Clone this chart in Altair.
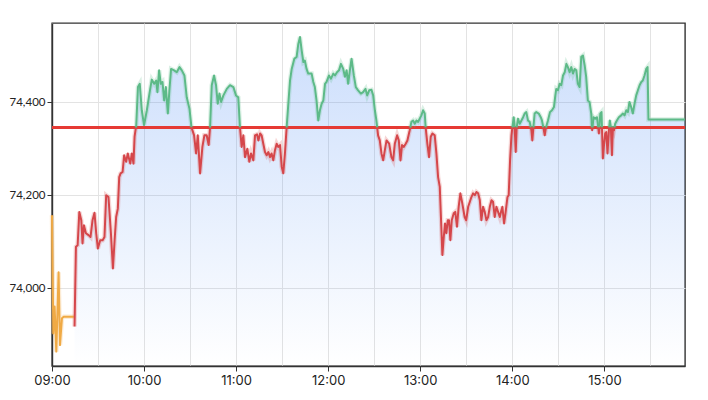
import altair as alt
import pandas as pd

REF_PRICE = 74346
Y_MIN, Y_MAX = 73832, 74571
DAY = "2024-01-02 09:00"

# pre-open auction (minutes after 09:00, price)
auction_min = [0, 0.85, 1.7, 2.8, 3.4, 4.3, 5.2, 6.5, 7.6, 14.3]
auction_px = [74157, 73902, 73960, 73863, 73931, 74034, 73877, 73935, 73938, 73938]

# continuous session (minutes after 09:00, price)
main_min = [
    14.7, 15.6, 16.7, 17.8, 19.1, 19.9, 20.8, 22.1, 23.8, 25.1, 26.4, 27.7, 28.8, 29.9,
    31.4, 33.0, 34.2, 35.3, 36.8, 38.4, 39.7, 40.8, 41.8, 42.9, 43.8, 44.7, 46.0, 47.0,
    48.3, 49.4, 51.0, 52.0, 53.1, 53.8, 54.9, 56.0, 57.2, 58.5, 60.0, 61.8, 63.5, 65.0,
    66.6, 67.9, 68.7, 69.8, 70.9, 72.0, 73.1, 74.2, 75.5, 76.5, 77.6, 79.6, 81.3, 83.1,
    84.6, 86.3, 87.8, 89.6, 90.9, 92.6, 93.9, 95.0, 96.5, 98.0, 99.3, 100.8, 102.1, 103.0,
    104.1, 105.6, 106.9, 108.0, 109.1, 110.2, 111.7, 113.9, 116.0, 118.2, 119.9, 121.4,
    122.5, 123.6, 124.7, 125.8, 127.3, 128.6, 129.7, 131.2, 132.3, 133.6, 134.5, 135.6,
    136.6, 137.7, 138.8, 139.9, 141.0, 142.1, 143.1, 144.2, 145.3, 146.4, 147.5, 148.6,
    149.7, 150.7, 151.8, 152.9, 154.0, 155.1, 156.2, 157.9, 159.4, 160.5, 161.6, 162.7,
    163.8, 164.8, 165.9, 167.0, 169.2, 170.3, 171.3, 172.4, 173.5, 174.6, 175.7, 176.8,
    177.9, 178.9, 180.5, 181.8, 183.3, 184.4, 185.7, 187.0, 188.3, 189.8, 190.9, 192.0,
    193.0, 194.1, 195.2, 196.7, 198.0, 199.5, 201.3, 202.7, 204.3, 205.4, 206.7, 208.2,
    209.3, 210.4, 211.4, 212.5, 213.6, 214.7, 215.8, 216.9, 218.0, 219.7, 221.2, 222.3,
    223.4, 224.9, 226.0, 227.1, 228.1, 229.2, 230.5, 231.6, 233.1, 234.2, 235.3, 236.4,
    237.5, 238.6, 239.6, 240.7, 241.8, 242.9, 243.5, 244.6, 245.7, 246.8, 247.9, 249.4,
    250.5, 251.6, 252.7, 253.7, 254.4, 255.3, 256.1, 257.0, 257.9, 258.7, 259.6, 260.5,
    261.8, 262.8, 263.9, 265.0, 266.1, 267.4, 268.9, 269.9, 271.2, 272.3, 273.3, 274.4,
    275.5, 276.6, 277.7, 278.8, 279.8, 280.9, 282.0, 283.1, 284.2, 285.3, 286.4, 287.4,
    288.5, 289.6, 290.7, 291.8, 292.9, 293.5, 294.6, 295.5, 296.8, 297.6, 298.5, 299.4,
    300.0, 300.9, 301.5, 302.2, 302.8, 303.7, 304.8, 305.9, 307.0, 308.0, 309.1, 310.2,
    311.3, 312.4, 313.0, 313.7, 314.5, 315.6, 317.2, 318.5, 319.3, 320.2, 321.1, 321.9,
    323.2, 324.5, 325.8, 327.1, 328.0, 328.6, 329.7, 330.8, 331.9, 333.0, 334.1, 335.2,
    336.2, 337.3, 338.4, 339.5, 340.6, 341.7, 342.7, 343.8, 344.9, 346.0, 347.1, 348.1,
    349.2, 350.3, 351.4, 352.0, 352.9, 354.0, 355.1, 355.7, 356.4, 357.3, 358.1, 359.0,
    359.6, 360.5, 361.2, 362.0, 362.9, 363.5, 364.2, 364.9, 365.5, 366.2, 367.0, 368.1,
    369.4, 370.9, 372.0, 373.1, 374.2, 375.3, 376.3, 377.4, 378.5, 379.6, 380.7, 381.8,
    382.9, 384.0, 385.0, 386.1, 387.2, 388.1, 388.7, 412.5,
]
main_px = [
    73917, 74089, 74092, 74164, 74146, 74096, 74135, 74118, 74114, 74110, 74146, 74162, 74118, 74085,
    74103, 74103, 74110, 74200, 74196, 74118, 74042, 74103, 74153, 74171, 74239, 74247, 74250, 74286,
    74272, 74290, 74268, 74290, 74268, 74326, 74351, 74433, 74440, 74383, 74351, 74383, 74419, 74449,
    74440, 74447, 74422, 74469, 74440, 74444, 74404, 74433, 74376, 74426, 74472, 74469, 74465, 74476,
    74469, 74458, 74411, 74386, 74346, 74329, 74290, 74329, 74247, 74304, 74329, 74329, 74308, 74346,
    74437, 74458, 74437, 74397, 74419, 74401, 74415, 74429, 74437, 74433, 74415, 74411,
    74346, 74304, 74329, 74282, 74300, 74272, 74290, 74275, 74329, 74331, 74318, 74333,
    74329, 74311, 74293, 74286, 74293, 74282, 74290, 74275, 74297, 74311, 74304, 74308,
    74261, 74247, 74290, 74346, 74397, 74447, 74472, 74494, 74498, 74526, 74541, 74512,
    74487, 74490, 74472, 74462, 74462, 74444, 74433, 74404, 74361, 74383, 74397, 74404,
    74440, 74444, 74458, 74451, 74462, 74458, 74465, 74469, 74483, 74472, 74455, 74469,
    74440, 74469, 74494, 74458, 74433, 74426, 74419, 74422, 74429, 74415, 74426, 74427,
    74415, 74383, 74361, 74329, 74318, 74290, 74275, 74297, 74318, 74311, 74282, 74275,
    74311, 74329, 74318, 74275, 74308, 74304, 74311, 74318, 74340, 74358, 74361, 74354,
    74361, 74358, 74365, 74372, 74383, 74376, 74346, 74311, 74282, 74326, 74333, 74329,
    74290, 74239, 74218, 74132, 74071, 74110, 74139, 74118, 74146, 74146, 74103, 74146,
    74161, 74164, 74132, 74175, 74204, 74182, 74153, 74146, 74175, 74186, 74196, 74204,
    74200, 74207, 74204, 74189, 74146, 74175, 74164, 74146, 74153, 74175, 74189, 74186,
    74153, 74175, 74164, 74153, 74168, 74175, 74139, 74161, 74196, 74200, 74275, 74329,
    74346, 74368, 74346, 74293, 74346, 74365, 74354, 74361, 74368, 74376, 74379, 74361,
    74358, 74340, 74318, 74346, 74376, 74379, 74376, 74368, 74361, 74346, 74329, 74346,
    74361, 74379, 74383, 74390, 74415, 74429, 74426, 74440, 74437, 74458, 74465, 74483,
    74476, 74465, 74476, 74462, 74472, 74469, 74440, 74433, 74498, 74501, 74480, 74455,
    74404, 74401, 74376, 74340, 74368, 74365, 74368, 74354, 74333, 74376, 74379, 74279,
    74304, 74333, 74336, 74290, 74340, 74361, 74347, 74286, 74347, 74340, 74354, 74361,
    74368, 74372, 74376, 74372, 74383, 74379, 74401, 74390, 74376, 74397, 74415, 74426,
    74437, 74444, 74447, 74458, 74472, 74476, 74363, 74363,
]

tick_halfhours = [(h, m) for h in range(9, 16) for m in (0, 30)]
y_ticks = [74000, 74200, 74400]

COLORS = {"auction": "#f0aa45", "up": "#5dba88", "down": "#d5474b"}
REF_COLOR = "#e53a35"


def to_time(minutes):
    return pd.Timestamp(DAY) + pd.to_timedelta(minutes, unit="m")


# build coloured line segments (split where the price crosses the reference)
rows = []
for t, p in zip(auction_min, auction_px):
    rows.append({"t": to_time(t), "price": p, "side": "auction", "seg": 0})
seg = 1
prev = None
for t, p in zip(main_min, main_px):
    side = "up" if p >= REF_PRICE else "down"
    if prev is not None and side != prev[2]:
        pt, pp, ps = prev
        f = (REF_PRICE - pp) / (p - pp)
        ct = pt + f * (t - pt)
        rows.append({"t": to_time(ct), "price": REF_PRICE, "side": ps, "seg": seg})
        seg += 1
        rows.append({"t": to_time(ct), "price": REF_PRICE, "side": side, "seg": seg})
    rows.append({"t": to_time(t), "price": p, "side": side, "seg": seg})
    prev = (t, p, side)
lines_df = pd.DataFrame(rows)
area_df = pd.DataFrame({"t": [to_time(t) for t in main_min], "price": main_px})

x_scale = alt.Scale(
    domain=[alt.DateTime(year=2024, month=1, date=2, hours=9, minutes=0),
            alt.DateTime(year=2024, month=1, date=2, hours=15, minutes=52, seconds=30)],
    nice=False,
)
y_scale = alt.Scale(domain=[Y_MIN, Y_MAX], nice=False, zero=False)

x_axis = alt.Axis(
    title=None,
    values=[alt.DateTime(year=2024, month=1, date=2, hours=h, minutes=m) for h, m in tick_halfhours],
    labelExpr="minutes(datum.value) == 0 ? timeFormat(datum.value, '%H:%M') : ''",
    tickOpacity={"condition": {"test": "minutes(datum.value) != 0", "value": 0}, "value": 1},
    labelFlush=False,
    labelOverlap=False,
    tickSize=5,
    labelPadding=3,
    labelFont="Inter",
    labelFontSize=13,
    grid=True,
)
y_axis = alt.Axis(
    title=None,
    values=y_ticks,
    format=",d",
    tickSize=5,
    labelPadding=2,
    labelFont="Lato",
    labelFontSize=11.5,
    grid=True,
)

x_enc = alt.X("t:T", scale=x_scale, axis=x_axis)
y_enc = alt.Y("price:Q", scale=y_scale, axis=y_axis)

area = alt.Chart(area_df).mark_area(
    color={
        "gradient": "linear", "x1": 0, "x2": 0, "y1": 0, "y2": 1,
        "stops": [
            {"offset": 0, "color": "rgba(66,133,244,0.27)"},
            {"offset": 0.55, "color": "rgba(66,133,244,0.12)"},
            {"offset": 1, "color": "rgba(66,133,244,0.0)"},
        ],
    },
    interpolate="linear",
).encode(x=x_enc, y=y_enc, y2=alt.datum(Y_MIN))

color_scale = alt.Scale(domain=list(COLORS.keys()), range=list(COLORS.values()))

halo = alt.Chart(lines_df).mark_line(strokeWidth=4.5, opacity=0.22).encode(
    x=x_enc, y=y_enc,
    color=alt.Color("side:N", scale=color_scale, legend=None),
    detail="seg:N",
    order="t:T",
)
line = alt.Chart(lines_df).mark_line(strokeWidth=2, strokeJoin="round").encode(
    x=x_enc, y=y_enc,
    color=alt.Color("side:N", scale=color_scale, legend=None),
    detail="seg:N",
    order="t:T",
)
ref = alt.Chart(area_df).mark_rule(color=REF_COLOR, strokeWidth=2).encode(
    y=alt.datum(REF_PRICE, scale=y_scale)
)

chart = alt.layer(area, ref, halo, line).properties(
    width=633,
    height=343,
    autosize=alt.AutoSizeParams(type="none"),
    padding={"left": 44, "top": 15, "right": 15, "bottom": 26},
).configure_view(
    stroke="#333333", strokeWidth=1.4
).configure_axis(
    labelColor="#222222",
    domainColor="#333333",
    domainWidth=1.4,
    tickColor="#333333",
    gridColor="#e3e3e3",
    gridWidth=1,
)

chart.save("out.html", embed_options={"renderer": "svg", "actions": False})
